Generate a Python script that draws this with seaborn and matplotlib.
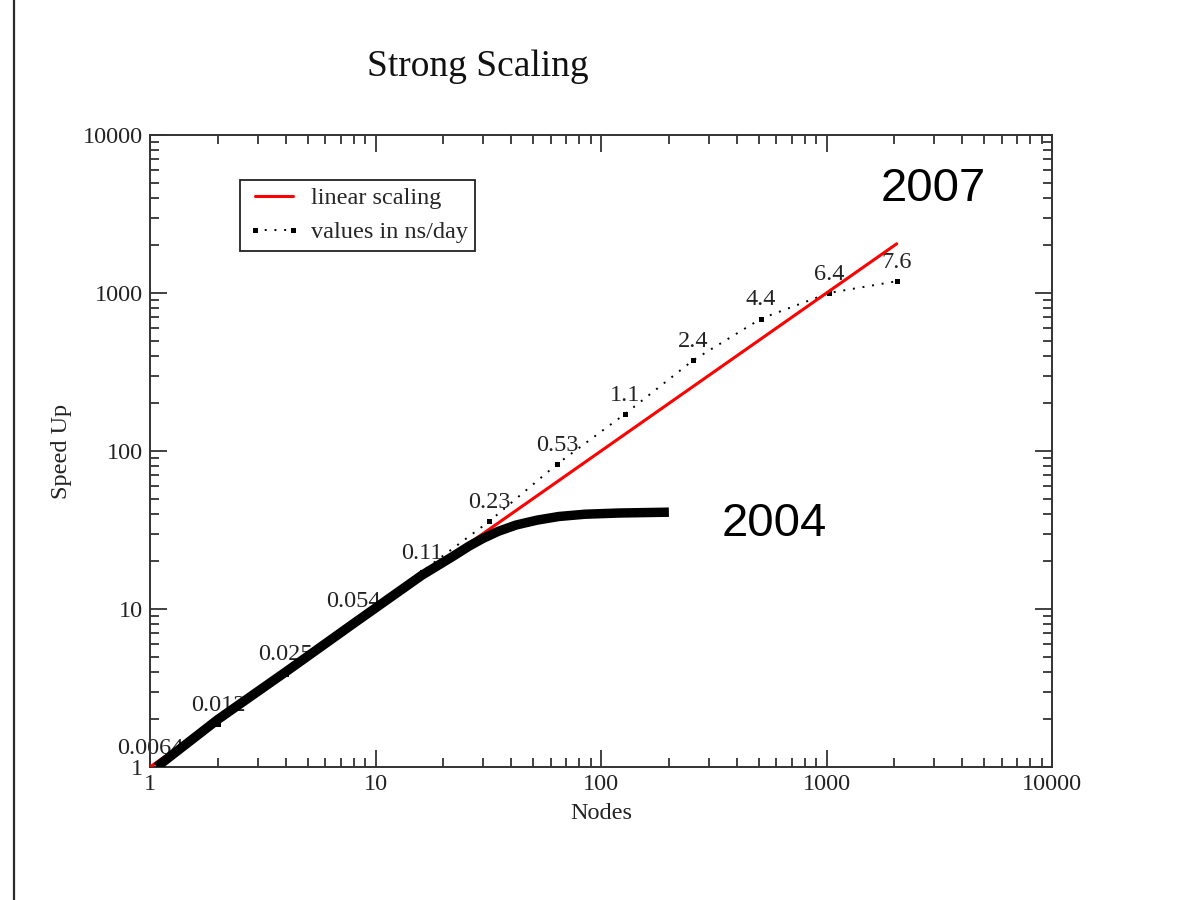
import matplotlib
matplotlib.use("Agg")
import matplotlib.pyplot as plt
from matplotlib import ticker
from matplotlib.lines import Line2D
import seaborn as sns
import pandas as pd

# Measured throughput per node count
nodes = [1, 2, 4, 8, 16, 32, 64, 128, 256, 512, 1024, 2048]
ns_per_day = [0.0064, 0.012, 0.025, 0.054, 0.11, 0.23, 0.53, 1.1, 2.4, 4.4, 6.4, 7.6]
value_labels = ["0.0064", "0.012", "0.025", "0.054", "0.11", "0.23",
                "0.53", "1.1", "2.4", "4.4", "6.4", "7.6"]

# Ideal linear scaling
linear_nodes = [1, 2048]
linear_speedup = [1, 2048]

# Earlier (2004) scaling curve
nodes_2004 = [1.07, 2, 4, 8, 16, 22, 26, 30, 35, 42, 52, 65, 85, 120, 200]
speedup_2004 = [1.0, 2.0, 4.0, 8.1, 16.3, 21.5, 25.0, 28.0, 31.0, 34.0, 36.5, 38.5, 39.8, 40.5, 41.0]

year_labels = ["2007", "2004"]

speedup = [v / ns_per_day[0] for v in ns_per_day]
df = pd.DataFrame({"Nodes": nodes, "Speed Up": speedup})
df_lin = pd.DataFrame({"Nodes": linear_nodes, "Speed Up": linear_speedup})
df_2004 = pd.DataFrame({"Nodes": nodes_2004, "Speed Up": speedup_2004})

sns.set_theme(style="ticks")
plt.rcParams["font.family"] = ["Liberation Serif", "DejaVu Serif"]

fig = plt.figure(figsize=(11.82, 9.0), dpi=100)
fig.patch.set_facecolor("white")
ax = fig.add_axes([150 / 1182, 1 - 767 / 900, 902 / 1182, 632 / 900])
ax.set_facecolor("white")

dot_style = dict(color="black", linestyle=(0, (1, 4)), linewidth=1.4,
                 marker="s", markersize=3.6, markeredgewidth=0)
sns.lineplot(data=df, x="Nodes", y="Speed Up", ax=ax, legend=False,
             zorder=2, **dot_style)
sns.lineplot(data=df_lin, x="Nodes", y="Speed Up", ax=ax, color="#ff0000",
             linewidth=2.2, legend=False, zorder=3)

ax.set_xscale("log")
ax.set_yscale("log")
ax.set_xlim(1, 10000)
ax.set_ylim(1, 10000)

for n, s, t in zip(nodes, speedup, value_labels):
    ax.annotate(t, (n, s), xytext=(0, 6), textcoords="offset points",
                ha="center", va="bottom", fontsize=17.5, color="#222222", zorder=2.5)

sns.lineplot(data=df_2004, x="Nodes", y="Speed Up", ax=ax, color="black",
             linewidth=6.8, solid_capstyle="butt", solid_joinstyle="round",
             legend=False, zorder=5)

# Legend with the linear entry first
handles = [
    Line2D([], [], color="#ff0000", linewidth=2.2),
    Line2D([], [], **dot_style),
]
leg = ax.legend(handles, ["linear scaling", "values in ns/day"],
                loc="upper left", bbox_to_anchor=(0.0998, 0.929), borderaxespad=0,
                fontsize=17.5, frameon=True, fancybox=False, framealpha=1,
                edgecolor="#222222", numpoints=2, handlelength=2.2,
                handletextpad=0.4, labelspacing=0.5, borderpad=0.3)
leg.get_frame().set_linewidth(1.3)

ax.xaxis.set_major_locator(ticker.LogLocator(base=10, numticks=10))
ax.yaxis.set_major_locator(ticker.LogLocator(base=10, numticks=10))
ax.xaxis.set_minor_locator(ticker.LogLocator(base=10, subs=range(2, 10), numticks=40))
ax.yaxis.set_minor_locator(ticker.LogLocator(base=10, subs=range(2, 10), numticks=40))
fmt = ticker.FuncFormatter(lambda v, p: f"{v:g}")
ax.xaxis.set_major_formatter(fmt)
ax.yaxis.set_major_formatter(fmt)
ax.xaxis.set_minor_formatter(ticker.NullFormatter())
ax.yaxis.set_minor_formatter(ticker.NullFormatter())

ax.tick_params(which="both", direction="in", top=True, right=True,
               colors="#333333", labelcolor="#222222", width=1.3)
ax.tick_params(which="major", length=12.5, labelsize=17.5, pad=5)
ax.tick_params(which="minor", length=6.5)
for sp in ax.spines.values():
    sp.set_color("#333333")
    sp.set_linewidth(1.4)

ax.set_xlabel("Nodes", fontsize=17.5, color="#222222", labelpad=6)
ax.set_ylabel("Speed Up", fontsize=17.5, color="#222222", labelpad=8)

ax.text(2970, 3820, year_labels[0], fontsize=34, family=["Liberation Sans", "DejaVu Sans"],
        color="black", ha="center", va="baseline", zorder=6)
ax.text(585, 29, year_labels[1], fontsize=34, family=["Liberation Sans", "DejaVu Sans"],
        color="black", ha="center", va="baseline", zorder=6)

fig.text(367 / 1182, 1 - 76 / 900, "Strong Scaling", fontsize=27,
         color="#111111", ha="left", va="baseline")

# Left page border
fig.add_artist(Line2D([14.5 / 1182, 14.5 / 1182], [0, 1], color="#2a2a2a",
                      linewidth=1.6, transform=fig.transFigure))

fig.savefig("out.png", dpi=100, facecolor="white")
